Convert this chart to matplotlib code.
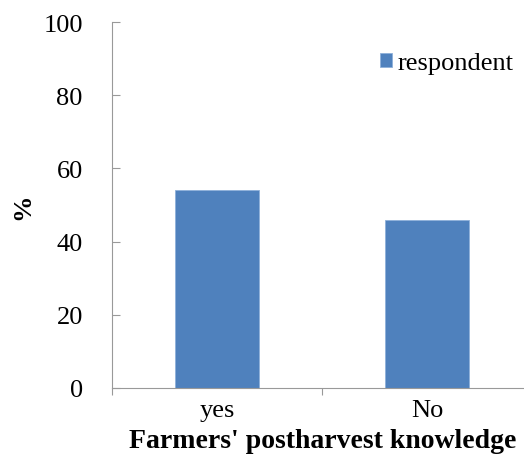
import matplotlib.pyplot as plt
import numpy as np

categories = ['yes', 'No']
respondent = [54, 46]
yticks = [0, 20, 40, 60, 80, 100]

plt.rcParams['font.family'] = ['Liberation Serif', 'DejaVu Serif']

fig = plt.figure(figsize=(5.24, 4.6), dpi=100)
ax = fig.add_axes([112 / 524, 71 / 460, 420 / 524, 366 / 460])

x = np.arange(len(categories))
ax.bar(x, respondent, width=0.4, color='#4F81BD', edgecolor='#8DB0DA', linewidth=0.6,
       label='respondent')

ax.set_xlim(-0.5, 1.5)
ax.set_ylim(0, 100)
ax.set_yticks(yticks)
ax.tick_params(axis='y', direction='in', length=6, color='#999999', labelsize=19, pad=21)

# category labels between boundary ticks
ax.set_xticks([-0.5, 0.5, 1.5])
ax.set_xticklabels([])
ax.tick_params(axis='x', direction='out', length=5, color='#999999')
ax.set_xticks(x, minor=True)
ax.set_xticklabels(categories, minor=True, fontsize=19)
ax.tick_params(axis='x', which='minor', length=0, pad=8)

for s in ['top', 'right']:
    ax.spines[s].set_visible(False)
for s in ['left', 'bottom']:
    ax.spines[s].set_color('#999999')

fig.text(323 / 524, 1 - 442 / 460, "Farmers' postharvest knowledge", fontsize=20,
         fontweight='bold', ha='center', va='center')
fig.text(23 / 524, 1 - 207 / 460, '%', fontsize=19, fontweight='bold', rotation=90,
         ha='center', va='center')

ax.legend(loc='center left', bbox_to_anchor=(380 / 524, 1 - 64 / 460),
          bbox_transform=fig.transFigure, frameon=False, fontsize=19,
          borderaxespad=0, borderpad=0,
          handlelength=0.45, handleheight=0.45, handletextpad=0.2)

fig.savefig('out.png', dpi=100)
